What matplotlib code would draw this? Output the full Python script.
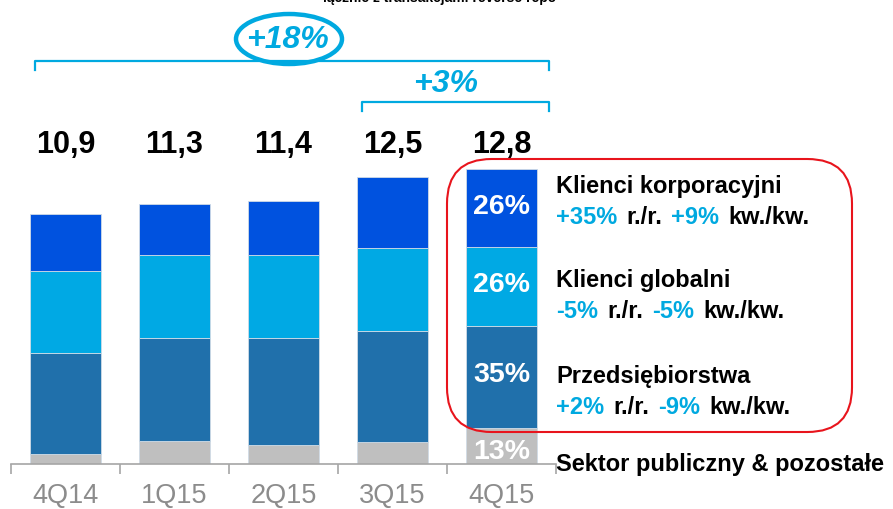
import numpy as np
import matplotlib.pyplot as plt
from matplotlib.patches import FancyBboxPatch, Ellipse

plt.rcParams['font.family'] = ['Liberation Sans', 'DejaVu Sans']

quarters = ['4Q14', '1Q15', '2Q15', '3Q15', '4Q15']
totals = ['10,9', '11,3', '11,4', '12,5', '12,8']
# segments, bottom to top (PLN bn)
sektor = [0.45, 0.99, 0.81, 0.94, 1.57]
przedsiebiorstwa = [4.37, 4.50, 4.68, 4.85, 4.45]
globalni = [3.58, 3.61, 3.58, 3.58, 3.41]
korporacyjni = [2.49, 2.22, 2.37, 3.10, 3.39]
last_shares = ['13%', '35%', '26%', '26%']

seg_colors = ['#bfbfbf', '#2070ab', '#00a9e4', '#0052df']
blue_txt = '#00a9e0'

W, H = 893, 510
fig = plt.figure(figsize=(W / 100, H / 100), dpi=100)
px = 23.0  # pixels per unit
ax = fig.add_axes([11 / W, 45 / H, 545 / W, 465 / H])
ax.set_xlim(-0.5, 4.5)
ax.set_ylim(0, 465 / px)

x = np.arange(len(quarters))
series = [sektor, przedsiebiorstwa, globalni, korporacyjni]
bottom = np.zeros(len(quarters))
for vals, col in zip(series, seg_colors):
    ax.bar(x, vals, width=0.66, bottom=bottom, color=col,
           edgecolor='#d0dbe6', linewidth=0.6, zorder=2)
    bottom += np.array(vals)

# totals all on one row above the bars
for xi, t in zip(x, totals):
    ax.text(xi, (465 - 145) / px, t, ha='center', va='center', fontsize=22,
            fontweight='bold', color='black')

# shares inside last bar
b = 0
for vals, s, dy in zip(series, last_shares, [-0.2, 0.1, 0.1, 0.1]):
    v = vals[-1]
    ax.text(x[-1], b + v / 2 + dy, s, ha='center', va='center', fontsize=20.5,
            fontweight='bold', color='white', zorder=3)
    b += v

for s in ['top', 'right', 'left']:
    ax.spines[s].set_visible(False)
ax.spines['bottom'].set_color('#a6a6a6')
ax.spines['bottom'].set_linewidth(1.2)
ax.set_yticks([])
ax.set_xticks(x)
ax.set_xticklabels(quarters, fontsize=19.5, color='#8c8c8c')
ax.tick_params(axis='x', which='major', length=0, pad=13)
ax.set_xticks(np.arange(-0.5, 5, 1), minor=True)
ax.tick_params(axis='x', which='minor', length=7, color='#a6a6a6', width=1.2)


def fx(p):
    return p / W


def fy(p):
    return 1 - p / H


def bracket(x0, x1, y, drop):
    fig.add_artist(plt.Line2D([fx(x0), fx(x0), fx(x1), fx(x1)],
                              [fy(y + drop), fy(y), fy(y), fy(y + drop)],
                              color=blue_txt, lw=1.6))


bracket(35, 549, 62, 9)
bracket(362, 549, 103, 9)
fig.text(fx(287), fy(40), '+18%', ha='center', va='center', fontsize=23,
         fontweight='bold', style='italic', color=blue_txt)
fig.add_artist(Ellipse((fx(289), fy(40)), 106 / W, 50 / H, fill=False,
                       edgecolor=blue_txt, lw=3.2, transform=fig.transFigure))
fig.text(fx(446), fy(84), '+3%', ha='center', va='center', fontsize=23,
         fontweight='bold', style='italic', color=blue_txt)

fig.text(fx(440), fy(-2), 'łącznie z transakcjami reverse repo', ha='center',
         va='center', fontsize=10, fontweight='bold')

# red rounded frame
fig.add_artist(FancyBboxPatch((fx(447), fy(433)), (852 - 447) / W, (433 - 160) / H,
                              boxstyle='round,pad=0,rounding_size=0.05',
                              transform=fig.transFigure, fill=False,
                              edgecolor='#e8141c', lw=1.5,
                              mutation_aspect=W / H))

legend_rows = [
    ('Klienci korporacyjni', 186, [('+35%', blue_txt), ('r./r.', 'black'), ('+9%', blue_txt), ('kw./kw.', 'black')]),
    ('Klienci globalni', 280, [('-5%', blue_txt), ('r./r.', 'black'), ('-5%', blue_txt), ('kw./kw.', 'black')]),
    ('Przedsiębiorstwa', 377, [('+2%', blue_txt), ('r./r.', 'black'), ('-9%', blue_txt), ('kw./kw.', 'black')]),
]
fs = 17
for title, yp, parts in legend_rows:
    fig.text(fx(556), fy(yp), title, ha='left', va='center', fontsize=fs,
             fontweight='bold')
    t = None
    for txt, c in parts:
        if t is None:
            t = fig.text(fx(556), fy(yp + 31), txt, ha='left', va='center',
                         fontsize=fs, fontweight='bold', color=c)
        else:
            t = ax.annotate(txt, xycoords=t, xy=(1, 0.5), xytext=(6.5, 0),
                            textcoords='offset points', va='center', ha='left',
                            fontsize=fs, fontweight='bold', color=c,
                            annotation_clip=False)
fig.text(fx(556), fy(465), 'Sektor publiczny & pozostałe', ha='left',
         va='center', fontsize=fs, fontweight='bold')

fig.savefig('out.png', dpi=100)
